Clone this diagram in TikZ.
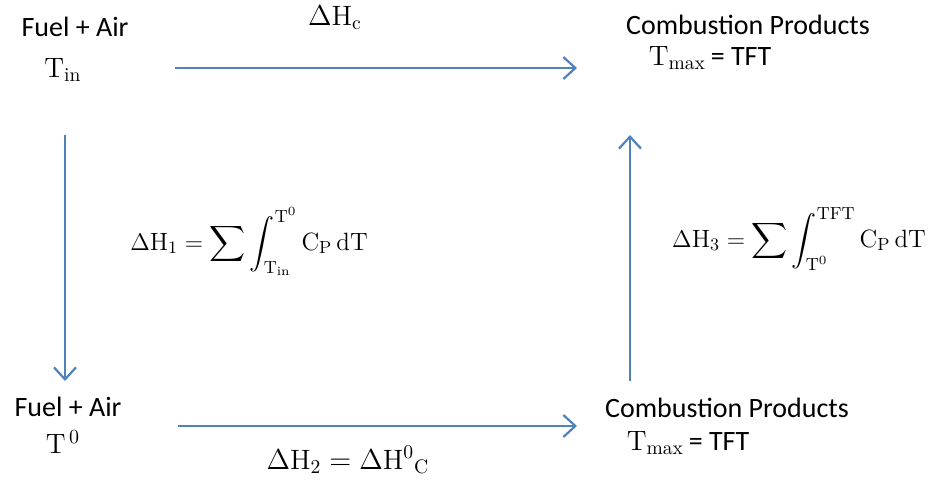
\documentclass[tikz,border=0pt]{standalone}
\usepackage{amsmath, amsfonts, amssymb}
\usepackage{fontspec}
\setmainfont{Carlito}
\setmathrm{Latin Modern Roman}
\usetikzlibrary{arrows.meta}
\usetikzlibrary{positioning}
\usetikzlibrary{calc}

\definecolor{officeblue}{RGB}{79,129,189}

\begin{document}
\begin{tikzpicture}[x=0.5pt, y=-0.5pt, every node/.style={inner sep=0pt, font=\fontsize{14}{16}\selectfont},
    flow/.style={draw=officeblue, line width=1.1pt, -{Straight Barb[length=6pt, width=11pt]}},
    eqn/.style={font=\fontsize{12.5}{15}\selectfont}]
          \useasboundingbox (0,0) rectangle (938,479);

          \node (fa1) at (75, 27) {Fuel + Air};
          \node (tin) at (63, 70) {$\mathrm{T_{in}}$};

          \node (cp1) at (748, 25) {Combustion Products};
          \node (tmax1) at (710, 58) {$\mathrm{T_{max}}$\,= TFT};

          \node (fa2) at (68, 407) {Fuel + Air};
          \node (t0) at (63, 442) {$\mathrm{T}^{\,0}$};

          \node (cp2) at (727, 408) {Combustion Products};
          \node (tmax2) at (688, 443) {$\mathrm{T_{max}}$\,= TFT};

          \node (dhc) at (335, 18) {$\Delta\mathrm{H_c}$};
          \node[eqn] (dh1) at (249, 241) {$\displaystyle \Delta\mathrm{H_1} = \sum\int_{\mathrm{T_{in}}}^{\mathrm{T^0}} \mathrm{C_P\,dT}$};
          \node (dh2) at (348, 460) {$\Delta\mathrm{H_2} = \Delta\mathrm{H^0}_{\mathrm{C}}$};
          \node[eqn] (dh3) at (799, 239) {$\displaystyle \Delta\mathrm{H_3} = \sum\int_{\mathrm{T^0}}^{\mathrm{TFT}} \mathrm{C_P\,dT}$};

          \coordinate (a1) at (175, 68);
          \coordinate (b1) at (577, 68);
          \coordinate (a2) at (178, 426);
          \coordinate (b2) at (577, 426);
          \coordinate (a3) at (65, 135);
          \coordinate (b3) at (65, 381);
          \coordinate (a4) at (630, 381);
          \coordinate (b4) at (630, 135);

          \draw[flow] (a1) -- (b1);
          \draw[flow] (a2) -- (b2);
          \draw[flow] (a3) -- (b3);
          \draw[flow] (a4) -- (b4);
        \end{tikzpicture}
\end{document}
